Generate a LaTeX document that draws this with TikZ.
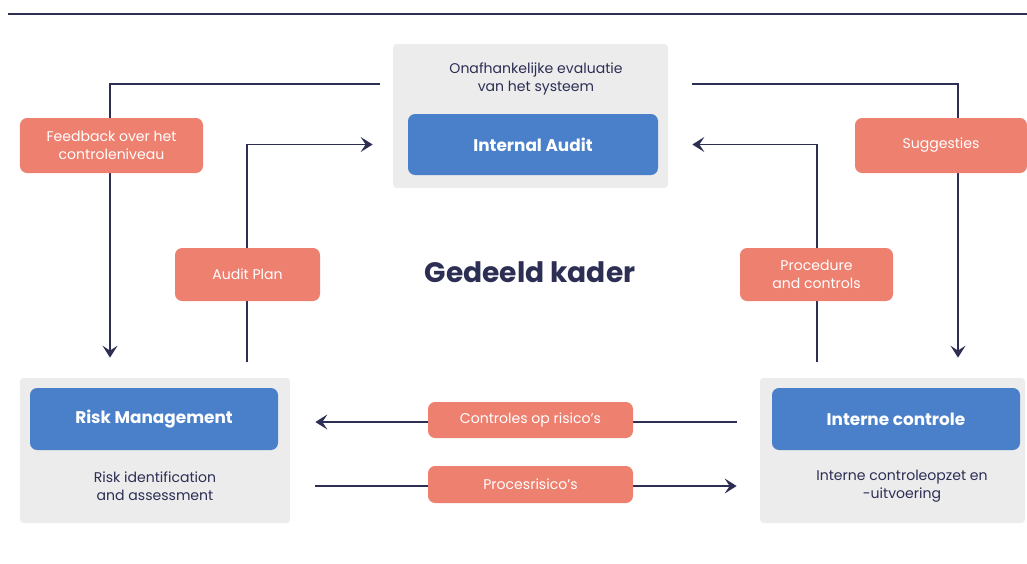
\documentclass[tikz,border=0pt]{standalone}
\usepackage{fontspec}
\setmainfont{Poppins}
\usetikzlibrary{arrows.meta}
\definecolor{navy}{RGB}{44,46,84}
\definecolor{unitblue}{RGB}{74,127,202}
\definecolor{tagred}{RGB}{238,128,112}
\definecolor{panelgray}{RGB}{236,236,236}
\begin{document}
\begin{tikzpicture}[
    every node/.style={text=navy, font=\fontsize{8}{10.5}\selectfont, align=center},
    panel/.style={fill=panelgray, rounded corners=2pt, minimum width=5.4cm, minimum height=2.9cm},
    unit/.style={fill=unitblue, rounded corners=4pt, text=white, font=\fontsize{9.6}{11}\selectfont\bfseries, minimum width=4.96cm, minimum height=1.24cm},
    tag/.style={fill=tagred, rounded corners=4pt, text=white, font=\fontsize{8}{10}\selectfont},
    flow/.style={draw=navy, line width=1.1pt, -{Stealth[length=2.4mm,width=3mm,inset=1mm]}},
    link/.style={draw=navy, line width=1.1pt}]
    \useasboundingbox (0,0) rectangle (20.54,-11.28);
    \draw[navy, line width=1.6pt] (0.16,-0.28) -- (20.54,-0.28);
    \node[panel, minimum width=5.5cm, minimum height=2.88cm] (iabox) at (10.61,-2.32) {};
    \node[unit, minimum width=5cm, minimum height=1.22cm] (ia) at (10.66,-2.89) {Internal Audit};
    \node (iatxt) at (10.72,-1.58) {Onafhankelijke evaluatie\\van het systeem};
    \node[panel] (rmbox) at (3.1,-9.01) {};
    \node[unit] (rm) at (3.08,-8.38) {Risk Management};
    \node (rmtxt) at (3.1,-9.72) {Risk identification\\and assessment};
    \node[panel, minimum width=5.3cm] (icbox) at (17.85,-9.01) {};
    \node[unit] (ic) at (17.92,-8.38) {Interne controle};
    \node (ictxt) at (18.04,-9.72) {Interne controleopzet en\\-uitvoering};
    \node[font=\fontsize{16}{20}\selectfont\bfseries] (title) at (10.6,-5.44) {Gedeeld kader};
    \draw[flow] ([shift={(-0.26,-0.8)}]iabox.north west) -| ([shift={(-0.9,0.4)}]rmbox.north);
    \draw[flow] ([shift={(1.84,0.32)}]rmbox.north) |- ([xshift=-0.7cm]ia.west);
    \draw[flow] ([shift={(0.48,-0.8)}]iabox.north east) -| ([shift={(1.31,0.4)}]icbox.north);
    \draw[flow] ([shift={(-1.51,0.32)}]icbox.north) |- ([xshift=0.68cm]ia.east);
    \draw[flow] ([shift={(-0.7,-0.06)}]ic.west) -- ([shift={(0.74,-0.06)}]rm.east);
    \draw[flow] ([shift={(0.5,-0.71)}]rmbox.east) -- ([shift={(-0.46,-0.71)}]icbox.west);
    \node[tag, minimum width=3.66cm, minimum height=1.1cm] (feedback) at (2.23,-2.91) {Feedback over het\\controleniveau};
    \node[tag, minimum width=2.9cm, minimum height=1.06cm] (auditplan) at (4.95,-5.49) {Audit Plan};
    \node[tag, minimum width=3.44cm, minimum height=1.1cm] (sugg) at (18.82,-2.91) {Suggesties};
    \node[tag, minimum width=3.06cm, minimum height=1.06cm] (proc) at (16.33,-5.49) {Procedure\\and controls};
    \node[tag, minimum width=4.1cm, minimum height=0.72cm] (ctrl) at (10.61,-8.4) {Controles op risico's};
    \node[tag, minimum width=4.1cm, minimum height=0.74cm] (risk) at (10.61,-9.69) {Procesrisico's};
\end{tikzpicture}
\end{document}
